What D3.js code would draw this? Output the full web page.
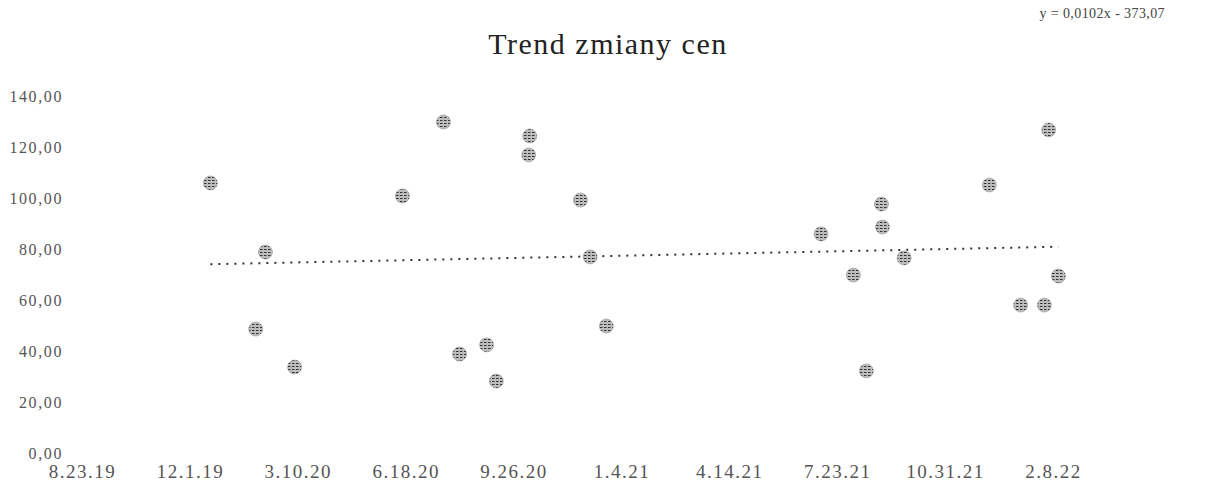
<!DOCTYPE html>
<meta charset="UTF-8">
<head>
  <script src="https://d3js.org/d3.v7.min.js"></script>
  <style>
    body { margin: 0; background: #fff; }
    text { font-family: "Liberation Serif", "DejaVu Serif", serif; }
  </style>
</head>
<body>
  <svg id="svg" width="1216" height="489"></svg>
  <script>
    // data (dates as m/d/yy in the original)
    const dates = ["2019-12-20","2020-02-09","2020-01-31","2020-03-07","2020-06-15","2020-07-23",
      "2020-08-07","2020-09-01","2020-09-10","2020-10-11","2020-10-10","2020-11-27","2020-12-06",
      "2020-12-21","2021-07-08","2021-08-07","2021-08-19","2021-09-02","2021-09-03","2021-09-23",
      "2021-12-11","2022-01-09","2022-01-31","2022-02-04","2022-02-13"];
    const prices = [105.9, 78.8, 48.6, 33.7, 100.8, 129.8, 38.8, 42.4, 28.2, 124.3, 116.9, 99.2, 76.9,
      49.8, 85.9, 69.8, 32.2, 97.6, 88.6, 76.5, 105.1, 58.0, 58.0, 126.7, 69.4];
    const xTicks = ["2019-08-23","2019-12-01","2020-03-10","2020-06-18","2020-09-26","2021-01-04",
      "2021-04-14","2021-07-23","2021-10-31","2022-02-08"];
    const yTicks = [0, 20, 40, 60, 80, 100, 120, 140];
    const title = "Trend zmiany cen";
    const equation = "y = 0,0102x - 373,07";

    const parse = d3.utcParse("%Y-%m-%d");
    const pts = dates.map((d, i) => ({ date: parse(d), v: prices[i] }));
    const tickDates = xTicks.map(parse);

    const svg = d3.select("#svg");
    const x = d3.scaleUtc().domain([tickDates[0], tickDates[tickDates.length - 1]]).range([82, 1053]);
    const y = d3.scaleLinear().domain([0, 140]).range([453, 96]);

    // hatch texture for markers
    const pat = svg.append("defs").append("pattern")
      .attr("id", "hatch").attr("patternUnits", "userSpaceOnUse")
      .attr("width", 4).attr("height", 3);
    pat.append("rect").attr("width", 4).attr("height", 3).attr("fill", "#bdbdbd");
    pat.append("rect").attr("width", 2.5).attr("height", 1).attr("fill", "#333");

    svg.append("text").attr("x", 608).attr("y", 54).attr("text-anchor", "middle")
      .attr("font-size", 30).attr("letter-spacing", 1.5).attr("fill", "#222").text(title);
    svg.append("text").attr("x", 1165).attr("y", 18).attr("text-anchor", "end")
      .attr("font-size", 14).attr("letter-spacing", 0.4).attr("fill", "#444").text(equation);

    const fmt = d3.formatLocale({ decimal: ",", thousands: " ", grouping: [3], currency: ["", " zł"] }).format(".2f");
    const yAxis = svg.append("g").attr("transform", "translate(63,0)")
      .call(d3.axisLeft(y).tickValues(yTicks).tickFormat(fmt).tickSize(0).tickPadding(0));
    yAxis.select(".domain").remove();
    yAxis.selectAll("text").attr("font-size", 16).attr("letter-spacing", 1.6).attr("fill", "#555")
      .style("font-family", "'Liberation Serif', serif");

    const xAxis = svg.append("g").attr("transform", "translate(0,462)")
      .call(d3.axisBottom(x).tickValues(tickDates).tickFormat(d3.utcFormat("%-m.%-d.%y")).tickSize(0).tickPadding(2));
    xAxis.select(".domain").remove();
    xAxis.selectAll("text").attr("font-size", 19).attr("letter-spacing", 1.5).attr("fill", "#555")
      .style("font-family", "'Liberation Serif', serif");

    // least-squares trend over the series, drawn between first and last date
    const xs = pts.map(d => +d.date), ys = pts.map(d => d.v);
    const mx = d3.mean(xs), my = d3.mean(ys);
    const slope = d3.sum(xs, (v, i) => (v - mx) * (ys[i] - my)) / d3.sum(xs, v => (v - mx) ** 2);
    const ext = d3.extent(pts, d => d.date);
    const trend = ext.map(d => ({ date: d, v: my + slope * (d - mx) }));
    svg.append("path").datum(trend)
      .attr("d", d3.line().x(d => x(d.date)).y(d => y(d.v)))
      .attr("fill", "none").attr("stroke", "#333").attr("stroke-width", 2)
      .attr("stroke-dasharray", "2,6");

    svg.append("g").selectAll("circle").data(pts).join("circle")
      .attr("cx", d => x(d.date)).attr("cy", d => y(d.v)).attr("r", 7)
      .attr("fill", "url(#hatch)").attr("stroke", "#888").attr("stroke-width", 0.5);
  </script>
</body>
